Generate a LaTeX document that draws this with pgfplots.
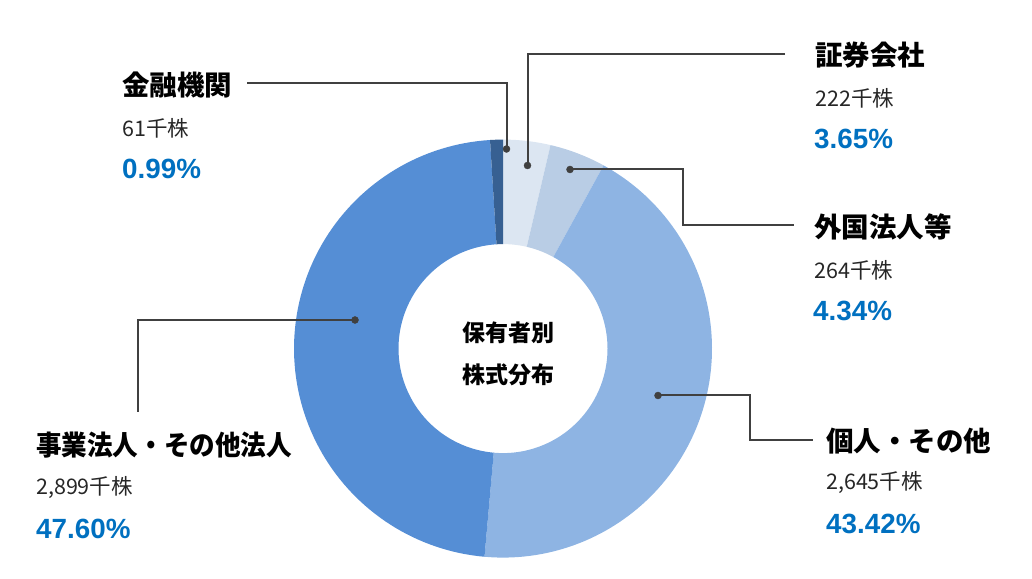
\documentclass[border=0pt]{standalone}
\usepackage{fontspec}
\setmainfont{Noto Sans CJK JP}
\newfontfamily\pctfont{Liberation Sans}
\usepackage{graphicx}
\usepackage{pgfplots}
\pgfplotsset{compat=1.18}
\definecolor{cKin}{HTML}{376092}
\definecolor{cSho}{HTML}{DCE6F2}
\definecolor{cGai}{HTML}{B9CDE5}
\definecolor{cKoj}{HTML}{8EB4E3}
\definecolor{cJig}{HTML}{558ED5}
\definecolor{lc}{HTML}{404040}
\definecolor{pc}{HTML}{0070C0}
\definecolor{vc}{HTML}{262626}
\newcommand{\ttl}[1]{{\fontsize{27.5}{31}\selectfont\bfseries #1}}
\newcommand{\val}[1]{{\color{vc}\fontsize{21.5}{26}\selectfont #1}}
\newcommand{\pct}[1]{{\color{pc}\pctfont\fontsize{27.8}{32}\selectfont\bfseries #1}}
\begin{document}
\begin{tikzpicture}
% shares in percent, clockwise from the top
\pgfmathsetmacro\aA{90}
\pgfmathsetmacro\aB{\aA-3.65*3.6}  % 証券会社
\pgfmathsetmacro\aC{\aB-4.34*3.6}  % 外国法人等
\pgfmathsetmacro\aD{\aC-43.42*3.6} % 個人・その他
\pgfmathsetmacro\aE{\aD-47.60*3.6} % 事業法人・その他法人
\pgfmathsetmacro\aF{\aE-0.99*3.6}  % 金融機関
\begin{axis}[width=1032pt,height=578pt,scale only axis,
  xmin=0,xmax=1032,ymin=-578,ymax=0,hide axis,clip=false,
  declare function={rr(\t)=(\t<=100.5)*209+(\t>100.5)*104.5;
    aa(\t,\p,\q)=(\t<=100.5)*(\p+(\q-\p)*\t/100)+(\t>100.5)*(\q-(\q-\p)*(\t-101)/100);}]
\path (axis cs:0,-578) rectangle (axis cs:1032,0);
\addplot[draw=none,fill=cSho,domain=0:201,samples=202] ({503+rr(x)*cos(aa(x,\aA,\aB))},{-348.6+rr(x)*sin(aa(x,\aA,\aB))});
\addplot[draw=none,fill=cGai,domain=0:201,samples=202] ({503+rr(x)*cos(aa(x,\aB,\aC))},{-348.6+rr(x)*sin(aa(x,\aB,\aC))});
\addplot[draw=none,fill=cKoj,domain=0:201,samples=202] ({503+rr(x)*cos(aa(x,\aC,\aD))},{-348.6+rr(x)*sin(aa(x,\aC,\aD))});
\addplot[draw=none,fill=cJig,domain=0:201,samples=202] ({503+rr(x)*cos(aa(x,\aD,\aE))},{-348.6+rr(x)*sin(aa(x,\aD,\aE))});
\addplot[draw=none,fill=cKin,domain=0:201,samples=202] ({503+rr(x)*cos(aa(x,\aE,\aF))},{-348.6+rr(x)*sin(aa(x,\aE,\aF))});
% leader lines
\addplot[lc,line width=2pt,mark=none] coordinates {(247,-83.5) (506.5,-83.5) (506.5,-149)};
\addplot[lc,line width=2pt,mark=none] coordinates {(785,-54) (527.5,-54) (527.5,-165.5)};
\addplot[lc,line width=2pt,mark=none] coordinates {(570,-169.5) (682.5,-169.5) (682.5,-225) (794,-225)};
\addplot[lc,line width=2pt,mark=none] coordinates {(355,-320) (137.5,-320) (137.5,-412)};
\addplot[lc,line width=2pt,mark=none] coordinates {(658,-395.5) (750,-395.5) (750,-440.5) (813,-440.5)};
\addplot[only marks,mark=*,mark size=3.5pt,lc,mark options={fill=lc,draw=lc}] coordinates {(506.5,-149) (527.5,-165.5) (570,-169.5) (355,-320) (658,-395.5)};
% labels
\node[anchor=west,inner sep=0pt] at (axis cs:122,-85) {\ttl{金融機関}};
\node[anchor=west,inner sep=0pt] at (axis cs:122,-128) {\val{61千株}};
\node[anchor=west,inner sep=0pt] at (axis cs:122,-169) {\pct{0.99\%}};
\node[anchor=west,inner sep=0pt] at (axis cs:815,-55) {\ttl{証券会社}};
\node[anchor=west,inner sep=0pt] at (axis cs:815,-98) {\val{222千株}};
\node[anchor=west,inner sep=0pt] at (axis cs:814,-139) {\pct{3.65\%}};
\node[anchor=west,inner sep=0pt] at (axis cs:814,-227) {\ttl{外国法人等}};
\node[anchor=west,inner sep=0pt] at (axis cs:814,-270) {\val{264千株}};
\node[anchor=west,inner sep=0pt] at (axis cs:813,-311) {\pct{4.34\%}};
\node[anchor=west,inner sep=0pt] at (axis cs:36,-445) {\scalebox{0.93}[1]{\ttl{事業法人・その他法人}}};
\node[anchor=west,inner sep=0pt] at (axis cs:36,-488) {\val{2,899千株}};
\node[anchor=west,inner sep=0pt] at (axis cs:36,-529) {\pct{47.60\%}};
\node[anchor=west,inner sep=0pt] at (axis cs:826,-441) {\ttl{個人・その他}};
\node[anchor=west,inner sep=0pt] at (axis cs:826,-483) {\val{2,645千株}};
\node[anchor=west,inner sep=0pt] at (axis cs:826,-524) {\pct{43.42\%}};
\node[align=center,inner sep=0pt,font=\fontsize{23}{42}\selectfont\bfseries] at (axis cs:508.5,-353.5) {保有者別\\株式分布};
\end{axis}
\end{tikzpicture}
\end{document}
